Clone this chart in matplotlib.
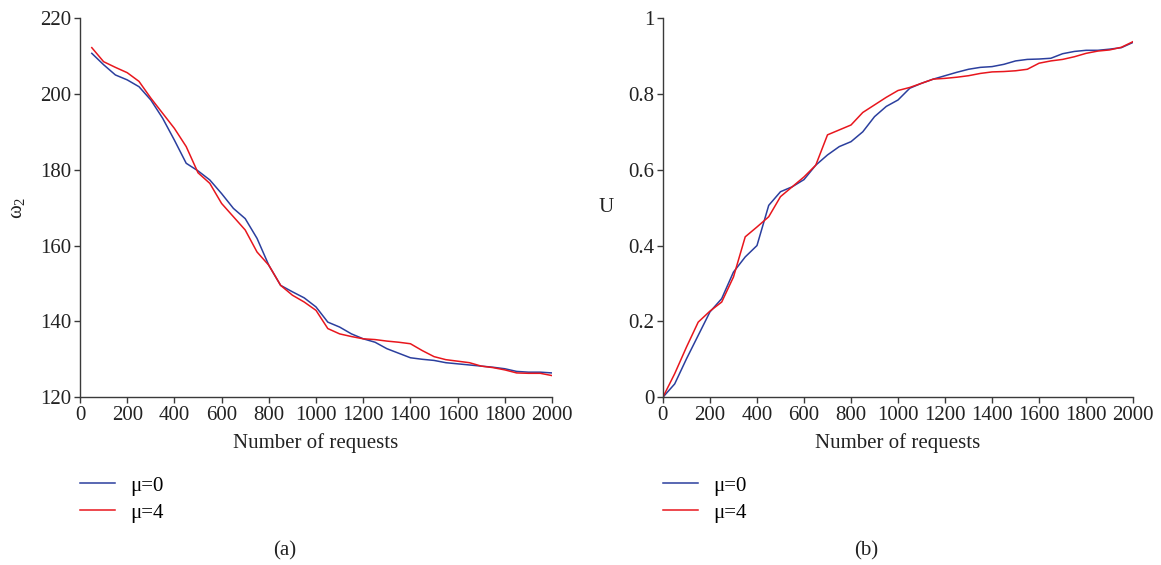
import numpy as np
import matplotlib.pyplot as plt

plt.rcParams['font.family'] = ['Liberation Serif', 'DejaVu Serif']
plt.rcParams['mathtext.fontset'] = 'stix'

# Number of requests (sampling points)
req_a = np.arange(50, 2001, 50)
req_b = np.arange(0, 2001, 50)

# (a) omega_2 against number of requests
w2_mu0 = [210.7, 207.7, 205.0, 203.7, 201.9, 198.4, 193.6, 187.8, 181.7, 179.7,
          177.3, 173.7, 169.8, 167.1, 161.9, 154.8, 149.5, 147.8, 146.2, 143.8,
          139.8, 138.5, 136.7, 135.4, 134.5, 132.8, 131.6, 130.4, 130.0, 129.7,
          129.1, 128.8, 128.5, 128.2, 127.9, 127.5, 126.8, 126.6, 126.6, 126.4]
w2_mu4 = [212.2, 208.5, 207.0, 205.6, 203.3, 198.9, 194.9, 190.9, 186.1, 179.2,
          176.4, 171.1, 167.6, 164.1, 158.3, 154.8, 149.5, 146.9, 145.1, 142.9,
          138.1, 136.7, 136.0, 135.4, 135.2, 134.8, 134.5, 134.1, 132.3, 130.7,
          129.9, 129.5, 129.1, 128.2, 127.8, 127.2, 126.4, 126.3, 126.3, 125.7]

# (b) U against number of requests
u_mu0 = [0.0, 0.035, 0.101, 0.163, 0.225, 0.260, 0.330, 0.370, 0.400, 0.506,
         0.542, 0.555, 0.574, 0.612, 0.639, 0.661, 0.674, 0.700, 0.740, 0.767,
         0.784, 0.815, 0.828, 0.839, 0.848, 0.857, 0.865, 0.870, 0.872, 0.878,
         0.887, 0.891, 0.892, 0.894, 0.906, 0.912, 0.915, 0.915, 0.918, 0.922,
         0.936]
u_mu4 = [0.0, 0.062, 0.132, 0.198, 0.227, 0.251, 0.317, 0.423, 0.449, 0.476,
         0.529, 0.555, 0.581, 0.612, 0.692, 0.705, 0.718, 0.751, 0.771, 0.791,
         0.809, 0.817, 0.828, 0.839, 0.841, 0.844, 0.848, 0.854, 0.858, 0.859,
         0.861, 0.865, 0.881, 0.887, 0.891, 0.898, 0.907, 0.913, 0.916, 0.923,
         0.938]

labels = ['μ=0', 'μ=4']
blue = '#2b3f9e'
red = '#e8161d'
axcol = '#3a3a3a'
txtcol = '#222222'
fs = 15

fig = plt.figure(figsize=(11.61, 5.65), dpi=100)
ax1 = fig.add_axes([0.0689, 0.297, 0.4066, 0.671])
ax2 = fig.add_axes([0.571, 0.297, 0.405, 0.671])


def style(ax):
    for s in ['top', 'right']:
        ax.spines[s].set_visible(False)
    for s in ['left', 'bottom']:
        ax.spines[s].set_color(axcol)
        ax.spines[s].set_linewidth(1.0)
    ax.tick_params(direction='out', length=4, width=1.0, color=axcol,
                   labelsize=fs, labelcolor=txtcol, pad=2)
    ax.set_xlim(0, 2000)
    ax.set_xticks(np.arange(0, 2001, 200))
    ax.set_xlabel('Number of requests', fontsize=fs, color=txtcol, labelpad=6)


ax1.plot(req_a, w2_mu0, color=blue, lw=1.1, label=labels[0])
ax1.plot(req_a, w2_mu4, color=red, lw=1.1, label=labels[1])
style(ax1)
ax1.set_ylim(120, 220)
ax1.set_yticks(np.arange(120, 221, 20))
ax1.set_ylabel(r'$\mathregular{ω_2}$', fontsize=fs, color=txtcol, labelpad=10)

ax2.plot(req_b, u_mu0, color=blue, lw=1.1, label=labels[0])
ax2.plot(req_b, u_mu4, color=red, lw=1.1, label=labels[1])
style(ax2)
ax2.set_ylim(0, 1)
ax2.set_yticks([0, 0.2, 0.4, 0.6, 0.8, 1])
ax2.set_yticklabels(['0', '0.2', '0.4', '0.6', '0.8', '1'])
ax2.set_ylabel('U', fontsize=fs, color=txtcol, rotation=0, labelpad=16, va='center')

for ax in (ax1, ax2):
    ax.legend(loc='upper left', bbox_to_anchor=(0.0, -0.208), frameon=False,
              fontsize=fs, handlelength=1.7, handletextpad=0.72, labelspacing=0.36,
              borderaxespad=0, borderpad=0)

fig.text(285 / 1161, 1 - 551 / 565, '(a)', ha='center', va='center', fontsize=fs, color=txtcol)
fig.text(866 / 1161, 1 - 551 / 565, '(b)', ha='center', va='center', fontsize=fs, color=txtcol)

fig.savefig('out.png', dpi=100)
